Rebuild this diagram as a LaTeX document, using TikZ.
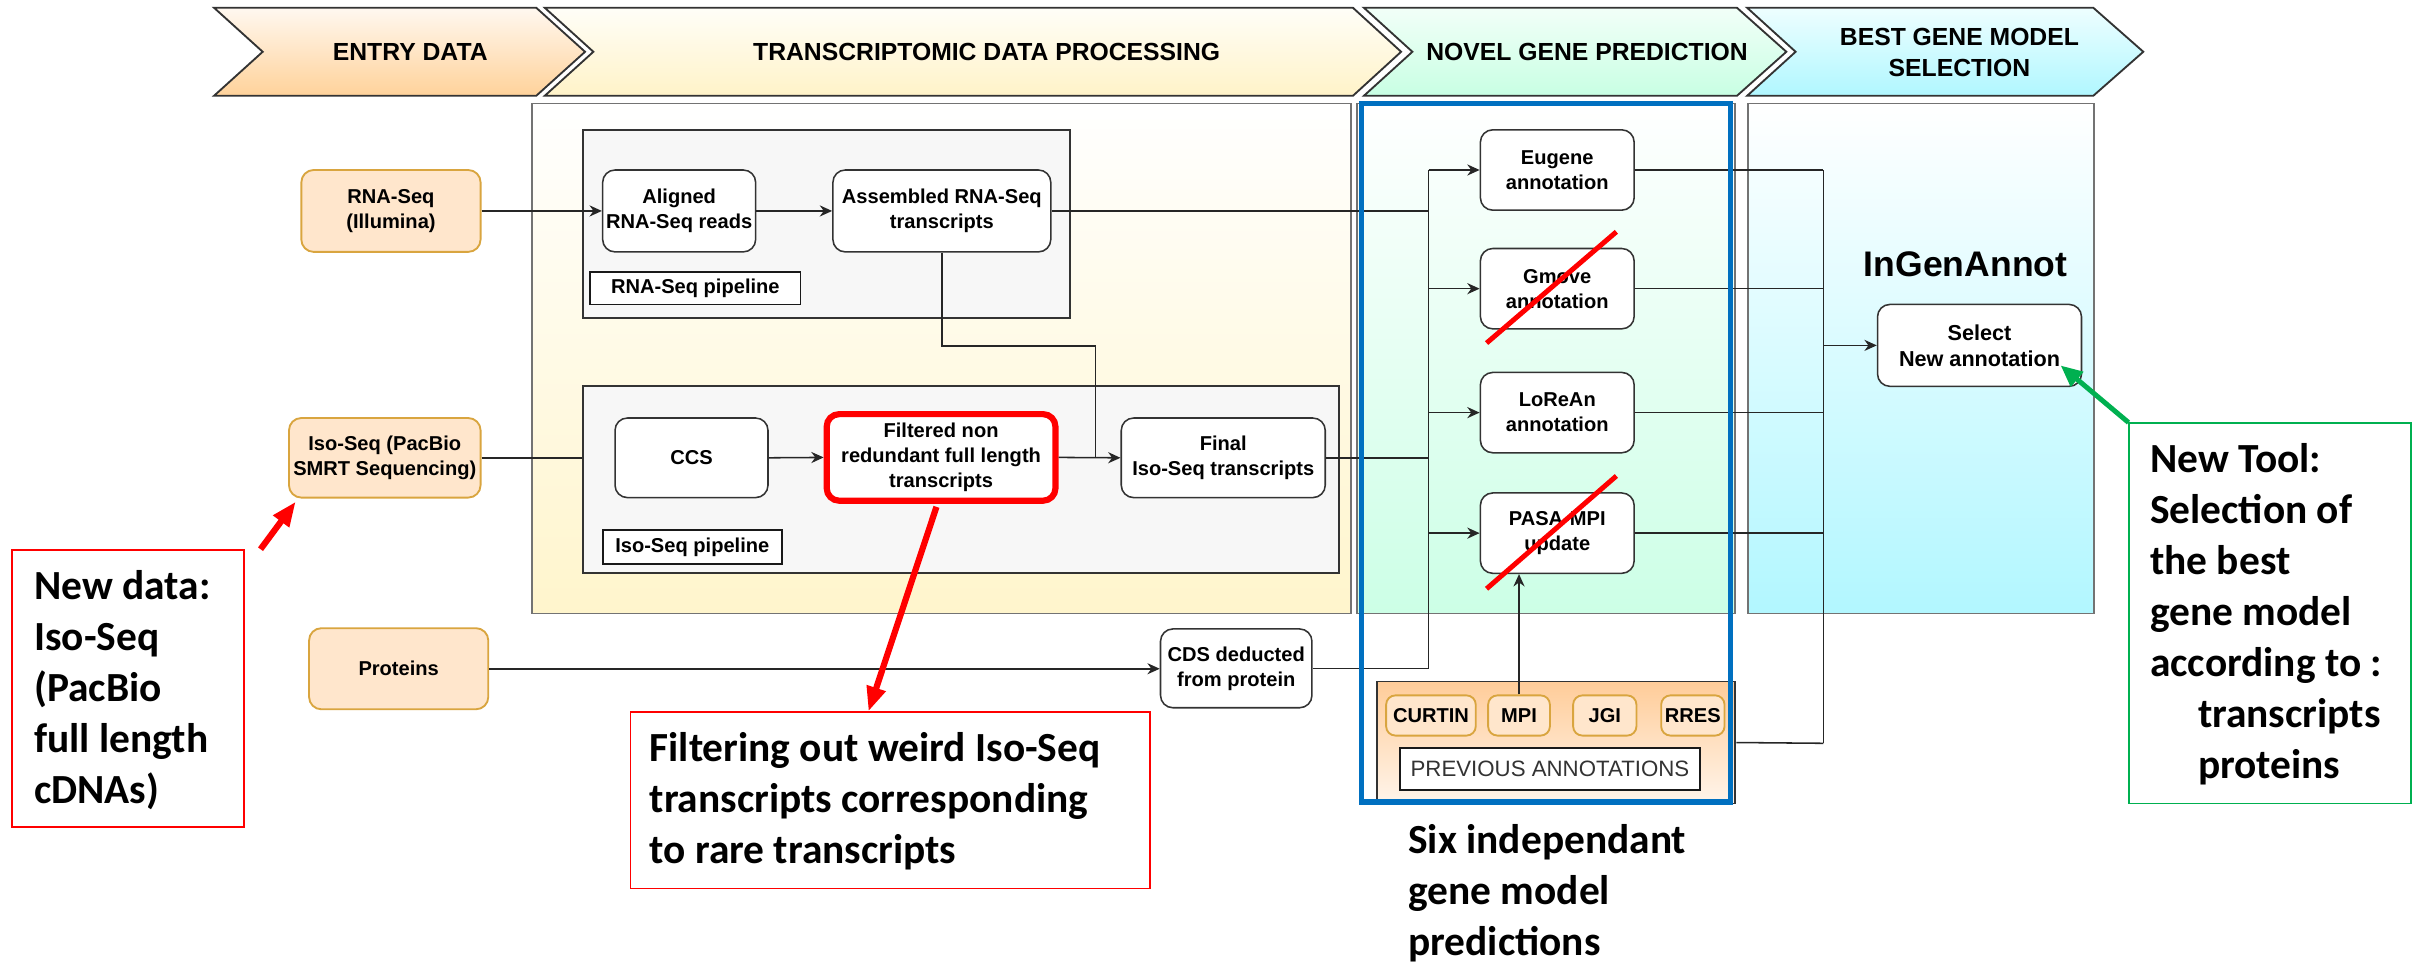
\documentclass[tikz,border=0pt]{standalone}
\usepackage{fontspec}
\setmainfont{Liberation Sans}
\newfontfamily\calib{Carlito}
\usetikzlibrary{arrows.meta,calc}
\definecolor{orgf}{HTML}{FFE6CC}
\definecolor{orgd}{HTML}{D9A53F}
\definecolor{bluec}{HTML}{0070C0}
\definecolor{greenc}{HTML}{00B050}
\definecolor{redc}{HTML}{FF0000}
\definecolor{tpb}{HTML}{FFF5CC}
\definecolor{npb}{HTML}{CCFFE6}
\definecolor{bpb}{HTML}{B2F7FF}
\definecolor{eA}{HTML}{FFF8F0}
\definecolor{eB}{HTML}{FFD29A}
\definecolor{tA}{HTML}{FFFEF8}
\definecolor{tB}{HTML}{FFF3C8}
\definecolor{nA}{HTML}{F2FFF8}
\definecolor{nB}{HTML}{C8FFE3}
\definecolor{bA}{HTML}{EEFEFF}
\definecolor{bB}{HTML}{B0F7FF}
\definecolor{prevt}{HTML}{FFCC99}
\definecolor{prevb}{HTML}{FFF5EB}
\tikzset{
 hdr/.style={draw=black!80, line width=0.6pt},
 hdrtext/.style={font=\fontsize{8}{10.3}\selectfont\bfseries, align=center, inner sep=0pt},
 panel/.style={draw=black!55, line width=0.6pt, inner sep=0pt},
 pipe/.style={draw=black!80, fill=black!3, line width=0.6pt, inner sep=0pt},
 base/.style={font=\fontsize{6.5}{8.1}\selectfont\bfseries, align=center, inner sep=0.5pt},
 obox/.style={base, draw=orgd, fill=orgf, rounded corners=4pt, line width=0.6pt},
 wbox/.style={base, draw=black!80, fill=white, rounded corners=4pt, line width=0.5pt},
 lbl/.style={base, draw=black!90, fill=white, line width=0.6pt},
 ln/.style={draw=black!85, line width=0.5pt},
 arr/.style={ln, -{Stealth[length=4pt,width=3.6pt]}},
 slash/.style={draw=redc, line width=1.6pt},
 callout/.style={font=\calib\bfseries\fontsize{13.4}{16.5}\selectfont, align=left, inner sep=0pt, anchor=north west},
 redbox/.style={draw=redc, line width=0.6pt, inner sep=0pt},
 greenbox/.style={draw=greenc, line width=0.6pt, inner sep=0pt},
 redarr/.style={draw=redc, line width=2pt, -{Triangle[length=8pt,width=6pt]}},
 greenarr/.style={draw=greenc, line width=1.6pt, -{Triangle[length=7pt,width=6pt]}},
}
\begin{document}
\begin{tikzpicture}[x=0.5pt,y=-0.5pt]
\path[use as bounding box, fill=white] (0,0) rectangle (1568,623);

% background panels
\node[panel, top color=white, bottom color=tpb, minimum width=265.25pt, minimum height=165pt] (tpanel) at (609.25,232) {};
\node[panel, top color=white, bottom color=npb, minimum width=122.5pt, minimum height=165pt] (npanel) at (1000.5,232) {};
\node[panel, top color=white, bottom color=bpb, minimum width=112pt, minimum height=165pt] (bpanel) at (1243,232) {};

% header chevrons
\path[hdr, top color=eA, bottom color=eB] (138.5,5) -- (347,5) -- (378.6,33.5) -- (347,62) -- (138.5,62) -- (170,33.5) -- cycle;
\path[hdr, top color=tA, bottom color=tB] (352.5,5) -- (875.5,5) -- (906.7,33.5) -- (875.5,62) -- (352.5,62) -- (384,33.5) -- cycle;
\path[hdr, top color=nA, bottom color=nB] (882.6,5) -- (1124,5) -- (1156,33.5) -- (1124,62) -- (882.6,62) -- (914,33.5) -- cycle;
\path[hdr, top color=bA, bottom color=bB] (1130.6,5) -- (1354.6,5) -- (1387,33.5) -- (1354.6,62) -- (1130.6,62) -- (1162,33.5) -- cycle;
\node[hdrtext] (hentry) at (265.5,33.5) {ENTRY DATA};
\node[hdrtext] (htrans) at (638.5,33.5) {TRANSCRIPTOMIC DATA PROCESSING};
\node[hdrtext] (hnovel) at (1027,33.5) {NOVEL GENE PREDICTION};
\node[hdrtext] (hbest) at (1268,34) {BEST GENE MODEL\\SELECTION};

% pipelines
\node[pipe, minimum width=157.75pt, minimum height=61pt] (rnapipe) at (534.75,145) {};
\node[pipe, minimum width=244.8pt, minimum height=60.5pt] (isopipe) at (621.8,310.5) {};
\node[lbl, minimum width=68pt, minimum height=10.5pt] (rnalbl) at (450,186.5) {RNA-Seq pipeline};
\node[lbl, minimum width=58pt, minimum height=11pt] (isolbl) at (448,354) {Iso-Seq pipeline};

% entry data
\node[obox, minimum width=58pt, minimum height=26.5pt] (rna) at (253,136.5) {RNA-Seq\\(Illumina)};
\node[obox, minimum width=62pt, minimum height=25.75pt] (iso) at (249,296.25) {Iso-Seq (PacBio\\SMRT Sequencing)};
\node[obox, minimum width=58pt, minimum height=26.25pt] (proteins) at (258,432.75) {Proteins};

% processing
\node[wbox, minimum width=49.5pt, minimum height=26.5pt] (aligned) at (439.5,136.5) {Aligned\\RNA-Seq reads};
\node[wbox, minimum width=70.5pt, minimum height=26.5pt] (assembled) at (609.5,136.5) {Assembled RNA-Seq\\transcripts};
\node[wbox, minimum width=49.5pt, minimum height=25.75pt] (ccs) at (447.5,296.25) {CCS};
\node[wbox, draw=redc, line width=2pt, minimum width=74pt, minimum height=28pt] (filtered) at (609,296) {Filtered non\\redundant full length\\transcripts};
\node[wbox, minimum width=66pt, minimum height=25.75pt] (final) at (791.6,296.25) {Final\\Iso-Seq transcripts};
\node[wbox, minimum width=49pt, minimum height=25.5pt] (cds) at (800,432.5) {CDS deducted\\from protein};

% prediction
\node[wbox, minimum width=49.75pt, minimum height=26pt] (eugene) at (1007.75,110) {Eugene\\annotation};
\node[wbox, minimum width=49.75pt, minimum height=26pt] (gmove) at (1007.75,186.8) {Gmove\\annotation};
\node[wbox, minimum width=49.75pt, minimum height=26pt] (lorean) at (1007.75,267) {LoReAn\\annotation};
\node[wbox, minimum width=49.75pt, minimum height=26pt] (pasa) at (1007.75,345) {PASA-MPI\\update};

% previous annotations
\node[draw=black!80, line width=0.6pt, top color=prevt, bottom color=prevb, minimum width=116pt, minimum height=39.5pt, inner sep=0pt] (prev) at (1007,480.5) {};
\node[obox, rounded corners=3pt, minimum width=29pt, minimum height=13pt] (curtin) at (926,463) {CURTIN};
\node[obox, rounded corners=3pt, minimum width=20pt, minimum height=13pt] (mpi) at (983,463) {MPI};
\node[obox, rounded corners=3pt, minimum width=20.5pt, minimum height=13pt] (jgi) at (1038.5,463) {JGI};
\node[obox, rounded corners=3pt, minimum width=20.5pt, minimum height=13pt] (rres) at (1095.5,463) {RRES};
\node[lbl, font=\fontsize{7.2}{8}\selectfont, text=black!80, minimum width=97pt, minimum height=13.5pt] (prevlbl) at (1003,497.5) {PREVIOUS ANNOTATIONS};

% selection
\node[font=\fontsize{11.5}{13}\selectfont\bfseries, anchor=base, inner sep=0pt] (ingen) at (1272,178.6) {InGenAnnot};
\node[wbox, font=\fontsize{7}{8.4}\selectfont\bfseries, minimum width=66pt, minimum height=26.5pt] (select) at (1281,223.5) {Select\\New annotation};

% bus coordinates
\coordinate (lbtop) at (924.5,110);
\coordinate (lbbot) at (924.5,432.5);
\coordinate (rbtop) at (1180,110);
\coordinate (rbbot) at (1180,481);
\coordinate (jt) at (709,224);

% connectors
\draw[arr] (rna.east) -- (aligned.west);
\draw[arr] (aligned.east) -- (assembled.west);
\draw[ln] (assembled.east) -- (assembled.east -| lbtop);
\draw[ln] (iso.east) -- (iso.east -| isopipe.west);
\draw[arr] (ccs.east) -- (filtered.west);
\draw[arr] (filtered.east) -- (final.west);
\draw[ln] (assembled.south) |- (jt) -- (jt |- final.west);
\draw[ln] (final.east) -- (final.east -| lbtop);
\draw[arr] (proteins.east) -- (proteins.east -| cds.west);
\draw[ln] (cds.east) -- (lbbot);
\draw[ln] (lbtop) -- (lbbot);
\draw[arr] (lbtop) -- (eugene.west);
\draw[arr] (gmove.west -| lbtop) -- (gmove.west);
\draw[arr] (lorean.west -| lbtop) -- (lorean.west);
\draw[arr] (pasa.west -| lbtop) -- (pasa.west);
\draw[arr] (mpi.north) -- (mpi.north |- pasa.south);
\draw[ln] (eugene.east) -- (rbtop);
\draw[ln] (gmove.east) -- (gmove.east -| rbtop);
\draw[ln] (lorean.east) -- (lorean.east -| rbtop);
\draw[ln] (pasa.east) -- (pasa.east -| rbtop);
\draw[ln] (prev.east) -- (rbbot);
\draw[ln] (rbtop) -- (rbbot);
\draw[arr] (select.west -| rbtop) -- (select.west);

% blue frame
\node[draw=bluec, line width=1.75pt, minimum width=119.5pt, minimum height=226pt, inner sep=0pt] (bluebox) at (1000.5,293) {};

% strike-outs
\draw[slash] (962,222) -- (1046,150);
\draw[slash] (962,381) -- (1046,308);

% callout boxes
\node[redbox, minimum width=75pt, minimum height=89.5pt] (newdata) at (83,445.5) {};
\node[redbox, minimum width=168pt, minimum height=57pt] (filtbox) at (576,518) {};
\node[greenbox, minimum width=91pt, minimum height=123pt] (toolbox) at (1469,397) {};

% callout texts
\node[callout] (newdatat) at (21.7,368.5) {New data:\\Iso-Seq\\(PacBio\\full length\\cDNAs)};
\node[callout] (filtt) at (420,473.5) {Filtering out weird Iso-Seq\\transcripts corresponding\\to rare transcripts};
\node[callout] (toolt) at (1391,286.5) {New Tool:\\Selection of\\the best\\gene model\\according to :\\\hspace*{15.5pt}transcripts\\\hspace*{15.5pt}proteins};
\node[callout] (six) at (911,533) {Six independant\\gene model\\predictions};

\draw[redarr] ($(newdata.north east)+(10,0)$) -- ($(iso.south west)+(5,2)$);
\draw[redarr] ($(filtered.south)+(-3,2)$) -- ($(filtbox.north)+(-14,0)$);
\draw[greenarr] (toolbox.north west) -- ($(select.south east)+(-14,-14)$);
\end{tikzpicture}
\end{document}
